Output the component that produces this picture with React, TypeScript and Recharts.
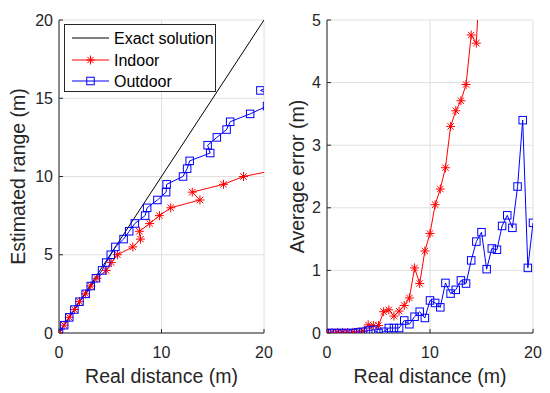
import React from 'react';
import { LineChart, Line, XAxis, YAxis, CartesianGrid, Legend } from 'recharts';

// left panel: estimated range vs real distance
const exactDist = [0, 20];
const exactRange = [0, 20];

const indoorDist = [0, 0.5, 1.0, 1.5, 2.0, 2.6, 3.1, 3.7, 4.6, 5.1, 5.7, 7.2, 7.95, 7.85, 8.85, 9.8, 10.9, 13.75, 13.0, 16.05, 18.0, 21.8];
const indoorRange = [0, 0.5, 1, 1.5, 2, 2.5, 3, 3.5, 4, 4.5, 5, 5.5, 6, 6.5, 7, 7.5, 8, 8.5, 9, 9.5, 10, 10.5];

const outdoorDist = [0, 0.5, 1.0, 1.5, 2.0, 2.6, 3.1, 3.6, 4.2, 4.6, 5.05, 5.5, 6.3, 6.85, 7.4, 8.4, 8.6, 9.6, 10.45, 10.5, 12.1, 12.5, 12.75, 14.75, 14.5, 15.4, 16.35, 16.7, 18.65, 20.3, 21.5, 19.65, 21.5];
const outdoorRange = [0, 0.5, 1, 1.5, 2, 2.5, 3, 3.5, 4, 4.5, 5, 5.5, 6, 6.5, 7, 7.5, 8, 8.5, 9, 9.5, 10, 10.5, 11, 11.5, 12, 12.5, 13, 13.5, 14, 14.5, 15, 15.5, 16];

// right panel: average error vs real distance
const indoorErrDist = [0, 0.5, 1, 1.5, 2, 2.5, 3, 3.5, 4, 4.5, 5, 5.5, 6, 6.5, 7, 7.5, 8, 8.5, 9, 9.5, 10, 10.5, 11, 11.5, 12, 12.5, 13, 13.5, 14, 14.5, 15];
const indoorErr = [0.01, 0.01, 0.01, 0.01, 0.01, 0.01, 0.02, 0.03, 0.13, 0.12, 0.12, 0.34, 0.37, 0.27, 0.35, 0.44, 0.56, 1.04, 0.79, 1.31, 1.59, 2.05, 2.3, 2.64, 3.3, 3.55, 3.71, 3.97, 4.76, 4.63, 6.2];

const outdoorErrDist = [0, 0.5, 1, 1.5, 2, 2.5, 3, 3.5, 4, 4.5, 5, 5.5, 6, 6.5, 7, 7.5, 8, 8.5, 9, 9.5, 10, 10.5, 11, 11.5, 12, 12.5, 13, 13.5, 14, 14.5, 15, 15.5, 16, 16.5, 17, 17.5, 18, 18.5, 19, 19.5, 20];
const outdoorErr = [0, 0, 0, 0, 0, 0, 0.01, 0.02, 0.04, 0.05, 0.0, 0.02, 0.08, 0.08, 0.08, 0.2, 0.14, 0.26, 0.34, 0.24, 0.52, 0.48, 0.41, 0.8, 0.63, 0.69, 0.84, 0.79, 1.16, 1.46, 1.61, 1.02, 1.35, 1.33, 1.71, 1.88, 1.68, 2.34, 3.4, 1.04, 1.76];

const distTicks = [0, 10, 20];
const rangeTicks = [0, 5, 10, 15, 20];
const errTicks = [0, 1, 2, 3, 4, 5];

const RED = '#ff0000';
const BLUE = '#0000ff';
const INK = '#262626';
const GRID = '#e0e0e0';
const FONT = '"Liberation Sans", Arial, sans-serif';

const toPoints = (xs: number[], ys: number[]) => xs.map((x, i) => ({ x, y: ys[i] }));

const Star = ({ cx, cy, r = 4.5 }: { cx: number; cy: number; r?: number }) => {
  const d = r * 0.707;
  return (
    <g stroke={RED} strokeWidth={1}>
      <line x1={cx - r} y1={cy} x2={cx + r} y2={cy} />
      <line x1={cx} y1={cy - r} x2={cx} y2={cy + r} />
      <line x1={cx - d} y1={cy - d} x2={cx + d} y2={cy + d} />
      <line x1={cx - d} y1={cy + d} x2={cx + d} y2={cy - d} />
    </g>
  );
};

const Square = ({ cx, cy, s = 7.5 }: { cx: number; cy: number; s?: number }) => (
  <rect x={cx - s / 2} y={cy - s / 2} width={s} height={s} fill="none" stroke={BLUE} strokeWidth={1} />
);

const starDot = (p: any) => <Star key={`st-${p.index}`} cx={p.cx} cy={p.cy} />;
const squareDot = (p: any) => <Square key={`sq-${p.index}`} cx={p.cx} cy={p.cy} />;

const tickStyle = { fill: INK, fontSize: 16, fontFamily: FONT };

const xTitle = (text: string) => ({
  content: ({ viewBox }: any) => (
    <text x={viewBox.x + viewBox.width / 2} y={viewBox.y + 50} textAnchor="middle" fill={INK} fontSize={19.5} fontFamily={FONT}>
      {text}
    </text>
  ),
});

const yTitle = (text: string, baseX: number) => ({
  content: ({ viewBox }: any) => {
    const x = viewBox.x + baseX;
    const y = viewBox.y + viewBox.height / 2;
    return (
      <text x={x} y={y} transform={`rotate(-90 ${x} ${y})`} textAnchor="middle" fill={INK} fontSize={19.5} fontFamily={FONT}>
        {text}
      </text>
    );
  },
});

const LegendBox = () => {
  const rows = [
    { label: 'Exact solution', color: '#000000', mark: null as null | 'star' | 'square', y: 14 },
    { label: 'Indoor', color: RED, mark: 'star' as const, y: 36 },
    { label: 'Outdoor', color: BLUE, mark: 'square' as const, y: 57 },
  ];
  return (
    <svg width={152} height={68} style={{ display: 'block' }}>
      <rect x={0.5} y={0.5} width={151} height={67} fill="#fff" stroke={INK} strokeWidth={1} />
      {rows.map((r) => (
        <g key={r.label}>
          <line x1={8} y1={r.y} x2={45} y2={r.y} stroke={r.color} strokeWidth={1} />
          {r.mark === 'star' && <Star cx={26.5} cy={r.y} />}
          {r.mark === 'square' && <Square cx={26.5} cy={r.y} />}
          <text x={50} y={r.y + 5.5} fill="#000" fontSize={16} fontFamily={FONT}>
            {r.label}
          </text>
        </g>
      ))}
    </svg>
  );
};

export default function App() {
  return (
    <div style={{ position: 'absolute', left: 0, top: 0, width: 550, height: 393, background: '#fff' }}>
      <div style={{ position: 'absolute', left: 0, top: 0 }}>
        <LineChart width={275} height={393} margin={{ top: 20, right: 11, bottom: 0, left: 0 }}>
          <CartesianGrid stroke={GRID} />
          <XAxis
            dataKey="x"
            type="number"
            domain={[0, 20]}
            ticks={distTicks}
            interval={0}
            allowDataOverflow
            height={60}
            stroke={INK}
            tickSize={-4}
            tickMargin={18}
            tick={tickStyle}
            label={xTitle('Real distance (m)')}
          />
          <XAxis xAxisId="top" orientation="top" type="number" domain={[0, 20]} ticks={distTicks} height={0} stroke={INK} tickSize={-4} tick={false} />
          <YAxis
            type="number"
            domain={[0, 20]}
            ticks={rangeTicks}
            interval={0}
            allowDataOverflow
            width={59}
            stroke={INK}
            tickSize={-4}
            tickMargin={10}
            tick={tickStyle}
            label={yTitle('Estimated range (m)', 24.5)}
          />
          <YAxis yAxisId="right" orientation="right" type="number" domain={[0, 20]} ticks={rangeTicks} width={0} stroke={INK} tickSize={-4} tick={false} />
          <Line data={toPoints(exactDist, exactRange)} dataKey="y" stroke="#000" strokeWidth={1} dot={false} isAnimationActive={false} />
          <Line data={toPoints(indoorDist, indoorRange)} dataKey="y" stroke={RED} strokeWidth={1} dot={starDot} isAnimationActive={false} />
          <Line data={toPoints(outdoorDist, outdoorRange)} dataKey="y" stroke={BLUE} strokeWidth={1} dot={squareDot} isAnimationActive={false} />
          <Legend
            layout="vertical"
            align="center"
            verticalAlign="middle"
            wrapperStyle={{ left: 64, top: 24, width: 152, height: 68 }}
            content={() => <LegendBox />}
          />
        </LineChart>
      </div>
      <div style={{ position: 'absolute', left: 275, top: 0 }}>
        <LineChart width={275} height={393} margin={{ top: 20, right: 17, bottom: 0, left: 0 }}>
          <CartesianGrid stroke={GRID} />
          <XAxis
            dataKey="x"
            type="number"
            domain={[0, 20]}
            ticks={distTicks}
            interval={0}
            allowDataOverflow
            height={60}
            stroke={INK}
            tickSize={-4}
            tickMargin={18}
            tick={tickStyle}
            label={xTitle('Real distance (m)')}
          />
          <XAxis xAxisId="top" orientation="top" type="number" domain={[0, 20]} ticks={distTicks} height={0} stroke={INK} tickSize={-4} tick={false} />
          <YAxis
            type="number"
            domain={[0, 5]}
            ticks={errTicks}
            interval={0}
            allowDataOverflow
            width={52}
            stroke={INK}
            tickSize={-4}
            tickMargin={10}
            tick={tickStyle}
            label={yTitle('Average error (m)', 28.5)}
          />
          <YAxis yAxisId="right" orientation="right" type="number" domain={[0, 5]} ticks={errTicks} width={0} stroke={INK} tickSize={-4} tick={false} />
          <Line data={toPoints(indoorErrDist, indoorErr)} dataKey="y" stroke={RED} strokeWidth={1} dot={starDot} isAnimationActive={false} />
          <Line data={toPoints(outdoorErrDist, outdoorErr)} dataKey="y" stroke={BLUE} strokeWidth={1} dot={squareDot} isAnimationActive={false} />
        </LineChart>
      </div>
    </div>
  );
}
